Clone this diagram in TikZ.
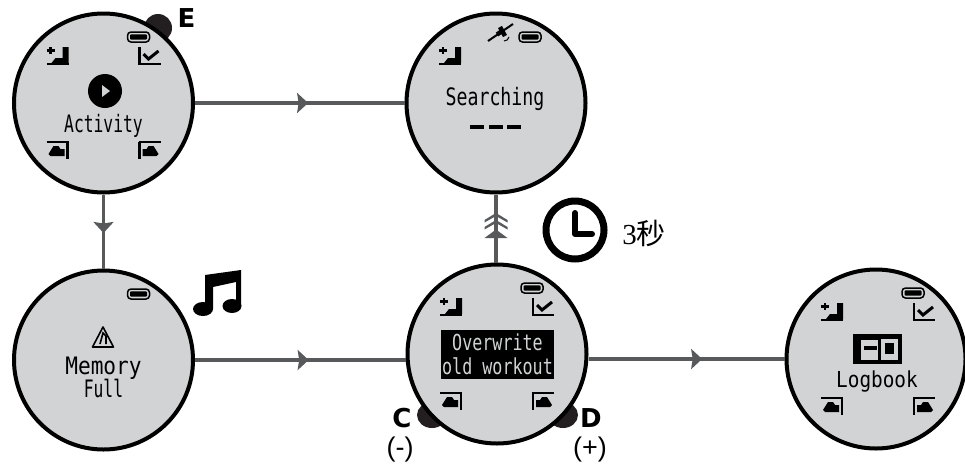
\documentclass[tikz,border=0pt]{standalone}
\usepackage{fontspec}
\setmainfont{Liberation Sans}
\newfontfamily\lcdfont[FakeStretch=0.68]{DejaVu Sans Mono}
\newfontfamily\lcdwide[FakeStretch=0.76]{DejaVu Sans Mono}
\newfontfamily\lcdbroad[FakeStretch=0.88]{DejaVu Sans Mono}
\newfontfamily\keyfont{DejaVu Sans}
\newfontfamily\serifdigit{Liberation Serif}
\newfontfamily\cjkfont{Noto Sans CJK SC}
\usepackage{xcolor}
\definecolor{lcdgrey}{RGB}{209, 211, 212}
\definecolor{linkgrey}{RGB}{88, 89, 91}
\definecolor{buttondark}{RGB}{35, 31, 32}
\usetikzlibrary{arrows.meta, decorations.markings}

\tikzset{
    iconline/.style={line width=2.2pt, line join=miter},
    pics/iconup/.style={code={
        \draw[iconline] (-7,-9) -- (-7,-2) (-11,-5.5) -- (-3,-5.5) (-11,8) -- (11,8);
        \fill (5,-9) -- (11,-9) -- (11,7) -- (-6,7) -- (-2,2) -- (5,2) -- cycle;
    }},
    pics/iconcheck/.style={code={
        \draw[iconline] (-10,-9) -- (-10,8) -- (11,8);
        \draw[line width=3pt] (-6,-2) -- (-1,3) -- (9,-5);
    }},
    pics/iconprev/.style={code={
        \draw[iconline] (-11,-8) -- (11,-8) (10,-8) -- (10,9);
        \fill (-9,4) -- (-4,-4) -- (1,-4) -- (3,-1) -- (7,-1) -- (7,6) -- (-7,6) -- cycle;
    }},
    pics/iconnext/.style={code={
        \draw[iconline] (-11,-8) -- (11,-8) (-10,-8) -- (-10,9);
        \fill (-7,-1) -- (-3,-1) -- (-1,-4) -- (4,-4) -- (9,4) -- (7,6) -- (-7,6) -- cycle;
    }},
    pics/battery/.style={code={
        \draw[line width=1.5pt, fill=lcdgrey, rounded corners=3.5pt] (-11,-5) rectangle (11,5);
        \fill[rounded corners=1pt] (-8.5,-2.6) rectangle (8.5,2.6);
    }},
    pics/chevrons/.style={code={
        \fill[linkgrey] (-11.5,-6) -- (0,-13) -- (11.5,-6) -- (11.5,-3.5) -- (0,-10) -- (-11.5,-3.5) -- cycle;
        \fill[linkgrey] (-11.5,1) -- (0,-6) -- (11.5,1) -- (11.5,3.5) -- (0,-3) -- (-11.5,3.5) -- cycle;
        \fill[linkgrey] (-11.5,12) -- (0,3.5) -- (11.5,12) -- cycle;
    }}
}

\begin{document}
\begin{tikzpicture}[
        x=1pt, y=-1pt,
        screen/.style={
            circle,
            draw=black,
            line width=4pt,
            fill=lcdgrey,
            minimum size=179pt,
            inner sep=0pt
        },
        lcd/.style={
            anchor=base,
            inner sep=0pt,
            font=\lcdfont\fontsize{24}{24}\selectfont
        },
        key/.style={
            anchor=center,
            inner sep=0pt,
            font=\keyfont\bfseries\fontsize{26}{26}\selectfont
        },
        sign/.style={
            anchor=center,
            inner sep=0pt,
            font=\fontsize{27}{27}\selectfont
        },
        link/.style={
            line width=3.4pt,
            color=linkgrey
        },
        flow/.style={
            link,
            postaction={decorate},
            decoration={markings, mark=at position #1 with {\arrow[linkgrey]{Stealth[length=11pt, width=20pt, inset=1.5pt]}}}
        },
        button/.style={fill=buttondark}
    ]
        \useasboundingbox (0,0) rectangle (965,466);

        % Buttons
        \fill[button] (158,28) circle (14);
        \fill[button] (432,415) ellipse (15 and 13);
        \fill[button] (563,415) ellipse (15 and 13);

        % Nodes
        \node[screen] (activity) at (103.5,103) {};
        \node[screen] (searching) at (496,103) {};
        \node[screen] (memory) at (103.5,360) {};
        \node[screen] (overwrite) at (497,354) {};
        \node[screen] (logbook) at (876,359) {};
        \coordinate (hold) at (496,226);

        % Arrows
        \draw[flow=0.54] (activity) -- (searching);
        \draw[flow=0.52] (activity) -- (memory);
        \draw[flow=0.54] (memory) -- (memory -| overwrite.west);
        \draw[flow=0.58] (overwrite.east |- logbook) -- (logbook);
        \draw[link] (searching) -- ([yshift=-14pt]hold);
        \draw[link] ([yshift=12pt]hold) -- (overwrite.north -| hold);
        \pic at (hold) {chevrons};

        % Screen icons
        \foreach \dial/\dx in {activity/0, overwrite/0, logbook/2} {
            \pic at ([xshift=\dx pt]\dial.center) [shift={(-46,-47)}] {iconup};
            \pic at ([xshift=\dx pt]\dial.center) [shift={(46,-47)}] {iconcheck};
            \pic at ([xshift=\dx pt]\dial.center) [shift={(-46,47)}] {iconprev};
            \pic at ([xshift=\dx pt]\dial.center) [shift={(46,47)}] {iconnext};
            \pic at ([xshift=\dx pt]\dial.center) [shift={(35,-66)}] {battery};
        }
        \pic at (searching.center) [shift={(-46,-47)}] {iconup};
        \pic at (searching.center) [shift={(34,-66)}] {battery};
        \pic at (memory.center) [shift={(35,-66)}] {battery};

        % Activity symbol
        \fill (105,91) circle (17);
        \fill[lcdgrey] (102,85) -- (110,91) -- (102,97) -- cycle;

        % Satellite
        \draw[line width=2pt] (488,41) -- (513,24);
        \draw[line width=4.5pt] (497,34.5) -- (503,30.5);
        \draw[line width=4.5pt] (500,27) -- (505,36);
        \draw[line width=1pt] (504,41) to[bend right=40] (509,37);

        % Warning symbol
        \draw[line width=1.6pt, line join=round] (103,327) -- (113.5,347) -- (92.5,347) -- cycle;
        \draw[line width=2.6pt] (93,347) -- (113,347);
        \draw[line width=1.6pt] (100,344) -- (103,333) -- (106,336) -- (106,344);

        % Logbook symbol
        \fill (853,334) rectangle (902,364);
        \fill[lcdgrey] (861,340) rectangle (878,360);
        \fill[lcdgrey] (881,339) rectangle (898,360);
        \fill (864,346) rectangle (877,350);
        \fill (885,343) rectangle (894,354);

        % Screen texts
        \node[lcd] (activitytext) at (103.5,132) {Activity};
        \node[lcd, font=\lcdwide\fontsize{24}{24}\selectfont] (searchingtext) at (495,105) {Searching};
        \node[lcd, font=\lcdbroad\fontsize{24}{24}\selectfont] (memorytext) at (103.5,374) {Memory};
        \node[lcd] (fulltext) at (103.5,397) {Full};
        \node[lcd, font=\lcdbroad\fontsize{22}{24}\selectfont] (logbooktext) at (877,387) {Logbook};
        \node[inner sep=0pt, fill=black, text=lcdgrey, align=center, minimum width=113pt, minimum height=49pt,
            font=\lcdwide\fontsize{22}{24}\selectfont] (overwritetext) at (497.5,354.5) {Overwrite\\old workout};
        \foreach \dashx in {477,496,514} {
            \fill (\dashx-7,125) rectangle (\dashx+7,129);
        }

        % Button labels
        \node[key] (keye) at (186.5,18) {E};
        \node[key] (keyc) at (402,418) {C};
        \node[key] (keyd) at (591,418) {D};
        \node[sign] (minus) at (400,450) {(-)};
        \node[sign] (plus) at (590,450) {(+)};

        % Music note
        \fill (203,309) ellipse (10 and 7);
        \fill (232,306) ellipse (9.5 and 7);
        \fill (205,309) -- (205,275) -- (241,270) -- (241,306) -- (236,306) -- (236,282) -- (213,287) -- (213,309) -- cycle;

        % Clock
        \draw[line width=7pt] (575,230) circle (29);
        \draw[line width=6pt, line cap=round, line join=round] (575,213) -- (575,234) -- (592,234);
        \node[inner sep=0pt, font=\fontsize{29}{29}\selectfont] (wait) at (644,233) {{\serifdigit 3}{\cjkfont 秒}};
    \end{tikzpicture}
\end{document}
